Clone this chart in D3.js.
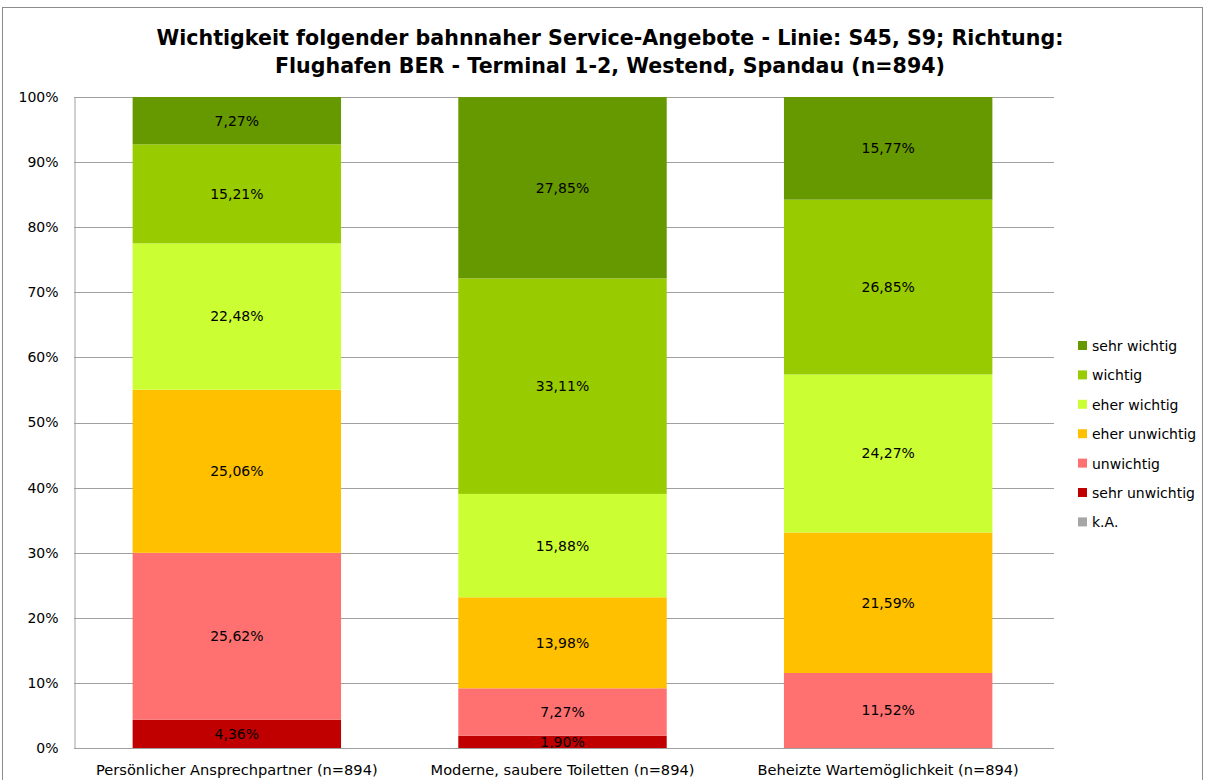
<!DOCTYPE html>
<html><head><meta charset="utf-8">
<script src="https://cdn.jsdelivr.net/npm/d3@7"></script>
<style>body{margin:0;background:#fff;} svg{display:block;font-family:Tahoma,"DejaVu Sans",sans-serif;}</style>
</head><body>
<svg id="chart" width="1206" height="780"></svg>
<script>
const categories = ["Persönlicher Ansprechpartner (n=894)", "Moderne, saubere Toiletten (n=894)", "Beheizte Wartemöglichkeit (n=894)"];
const seriesNames = ["k.A.", "sehr unwichtig", "unwichtig", "eher unwichtig", "eher wichtig", "wichtig", "sehr wichtig"];
const seriesColors = ["#A6A6A6", "#C00000", "#FF7171", "#FFC000", "#CCFF33", "#99CC00", "#669900"];
const kA = [0, 0, 0];
const sehrUnwichtig = [4.36, 1.90, 0];
const unwichtig = [25.62, 7.27, 11.52];
const eherUnwichtig = [25.06, 13.98, 21.59];
const eherWichtig = [22.48, 15.88, 24.27];
const wichtig = [15.21, 33.11, 26.85];
const sehrWichtig = [7.27, 27.85, 15.77];
const yTicks = [0, 10, 20, 30, 40, 50, 60, 70, 80, 90, 100];
const titleLines = ["Wichtigkeit folgender bahnnaher Service-Angebote - Linie: S45, S9; Richtung:", "Flughafen BER - Terminal 1-2, Westend, Spandau (n=894)"];

const seriesValues = [kA, sehrUnwichtig, unwichtig, eherUnwichtig, eherWichtig, wichtig, sehrWichtig];
const rows = categories.map((c, i) => {
  const r = {cat: c};
  seriesNames.forEach((s, j) => r[s] = seriesValues[j][i]);
  return r;
});

const svg = d3.select("#chart");
// outer border
svg.append("rect").attr("x", 2.5).attr("y", 7.5).attr("width", 1200).attr("height", 780).attr("fill", "none").attr("stroke", "#8c8c8c").attr("stroke-width", 1);

const m = {left: 74, right: 1054, top: 97, bottom: 748};
const x = d3.scaleBand().domain(categories).range([m.left, 1051]).paddingInner(0.36).paddingOuter(0.18);
const y = d3.scaleLinear().domain([0, 100]).range([m.bottom, m.top]);

// gridlines
svg.append("g").selectAll("line").data(yTicks).join("line")
  .attr("x1", m.left).attr("x2", m.right)
  .attr("y1", d => Math.round(y(d)) + 0.5).attr("y2", d => Math.round(y(d)) + 0.5)
  .attr("stroke", "#a0a0a0").attr("stroke-width", 1);

const stack = d3.stack().keys(seriesNames)(rows);
const color = d3.scaleOrdinal().domain(seriesNames).range(seriesColors);

const gBars = svg.append("g");
stack.forEach(layer => {
  gBars.append("g").attr("fill", color(layer.key)).selectAll("rect").data(layer).join("rect")
    .attr("x", d => x(d.data.cat))
    .attr("width", x.bandwidth())
    .attr("y", d => y(d[1]))
    .attr("height", d => Math.max(0, y(d[0]) - y(d[1])));
});

// labels
const fmt = v => v.toFixed(2).replace(".", ",") + "%";
stack.forEach(layer => {
  svg.append("g").selectAll("text").data(layer.filter(d => d[1] - d[0] > 0)).join("text")
    .attr("x", d => x(d.data.cat) + x.bandwidth() / 2)
    .attr("y", d => (y(d[0]) + y(d[1])) / 2)
    .attr("dy", "0.35em")
    .attr("text-anchor", "middle")
    .attr("font-size", 14)
    .attr("fill", "#000")
    .text(d => fmt(d[1] - d[0]));
});

// y axis
const yAxis = d3.axisLeft(y).tickValues(yTicks).tickFormat(d => d + "%").tickSize(0).tickPadding(16);
const ga = svg.append("g").attr("transform", `translate(${m.left + 0.5},0)`).call(yAxis);
ga.select(".domain").attr("stroke", "#a0a0a0");
ga.selectAll("text").attr("font-size", 14).attr("font-family", "Tahoma, 'DejaVu Sans', sans-serif").attr("fill", "#000");

// x axis
const xAxis = d3.axisBottom(x).tickSize(0).tickPadding(16);
const gx = svg.append("g").attr("transform", `translate(0,${m.bottom + 0.5})`).call(xAxis);
gx.select(".domain").attr("stroke", "#a0a0a0").attr("d", `M${m.left},0H${m.right}`);
gx.selectAll("text").attr("font-size", 14.6).attr("font-family", "Tahoma, 'DejaVu Sans', sans-serif").attr("fill", "#000");

// title
svg.append("g").selectAll("text").data(titleLines).join("text")
  .attr("x", 610).attr("y", (d, i) => 45 + i * 28)
  .attr("text-anchor", "middle").attr("font-size", 20.6).attr("font-weight", "bold")
  .attr("fill", "#000").text(d => d);

// legend
const legendNames = seriesNames.slice().reverse();
const lg = svg.append("g").selectAll("g").data(legendNames).join("g")
  .attr("transform", (d, i) => `translate(1078,${346 + i * 29.4})`);
lg.append("rect").attr("x", 0).attr("y", -5).attr("width", 9).attr("height", 9).attr("fill", d => color(d));
lg.append("text").attr("x", 14).attr("y", 0).attr("dy", "0.35em").attr("font-size", 14).attr("fill", "#000").text(d => d);
</script>
</body></html>
